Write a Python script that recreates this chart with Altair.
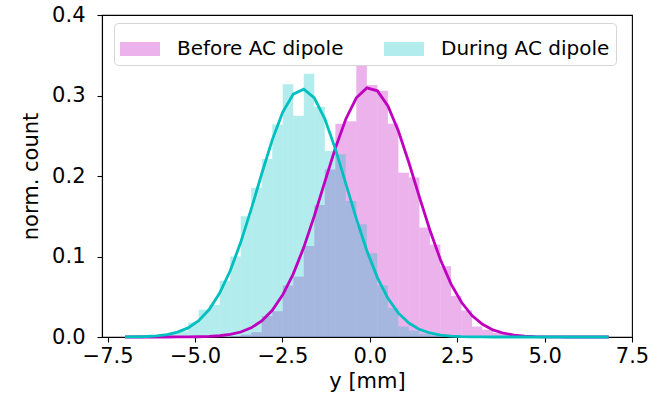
import altair as alt
import pandas as pd

# Common histogram bin edges (y [mm])
edges = [-7.000, -6.699, -6.399, -6.098, -5.797, -5.497, -5.196, -4.895, -4.594, -4.294,
         -3.993, -3.692, -3.392, -3.091, -2.790, -2.490, -2.189, -1.888, -1.587, -1.287,
         -0.986, -0.685, -0.385, -0.084, 0.217, 0.518, 0.818, 1.119, 1.420, 1.720,
         2.021, 2.322, 2.622, 2.923, 3.224, 3.525, 3.825, 4.126, 4.427, 4.727,
         5.028, 5.329, 5.629, 5.930, 6.231, 6.531, 6.832]

# Normalised counts per bin
before_counts = [0, 0, 0, 0, 0, 0, 0, 0, 0, 0,
                 0.001, 0.003, 0.006, 0.026, 0.032, 0.064, 0.075, 0.113, 0.164, 0.208,
                 0.265, 0.268, 0.342, 0.313, 0.306, 0.265, 0.204, 0.198, 0.136, 0.115,
                 0.088, 0.051, 0.033, 0.013, 0.009, 0.005, 0.003, 0.002, 0.001, 0,
                 0, 0, 0, 0, 0, 0]
during_counts = [0, 0.001, 0.001, 0.002, 0.004, 0.007, 0.018, 0.034, 0.040, 0.070,
                 0.100, 0.150, 0.185, 0.221, 0.264, 0.314, 0.275, 0.327, 0.286, 0.231,
                 0.227, 0.169, 0.140, 0.104, 0.064, 0.036, 0.013, 0.008, 0.004, 0.002,
                 0.001, 0, 0, 0, 0, 0, 0, 0, 0, 0,
                 0, 0, 0, 0, 0, 0]

# Fitted curves, read at the bin edges
before_fit = [0, 0, 0, 0, 0.00002, 0.00005, 0.00013, 0.00032, 0.00073, 0.00156,
              0.0032, 0.0062, 0.0114, 0.0200, 0.0332, 0.0523, 0.0784, 0.1114, 0.1505, 0.1927,
              0.2345, 0.2709, 0.2971, 0.3094, 0.3058, 0.2870, 0.2558, 0.2164, 0.1738, 0.1326,
              0.0960, 0.0660, 0.0431, 0.0267, 0.0157, 0.0088, 0.0047, 0.0023, 0.0011, 0.0005,
              0.0002, 0.0001, 0, 0, 0, 0, 0]
during_fit = [0.0001, 0.0003, 0.0006, 0.0014, 0.0030, 0.0060, 0.0113, 0.0202, 0.0341, 0.0545,
              0.0823, 0.1176, 0.1588, 0.2028, 0.2449, 0.2795, 0.3017, 0.3078, 0.2970, 0.2710,
              0.2337, 0.1905, 0.1470, 0.1071, 0.0738, 0.0481, 0.0296, 0.0173, 0.0095, 0.0050,
              0.0024, 0.0011, 0.0005, 0.0002, 0.0001, 0, 0, 0, 0, 0,
              0, 0, 0, 0, 0, 0, 0]

series = ["Before AC dipole", "During AC dipole"]
colors = ["#bf00bf", "#00bfbf"]
x_ticks = [-7.5, -5.0, -2.5, 0.0, 2.5, 5.0, 7.5]
y_ticks = [0.0, 0.1, 0.2, 0.3, 0.4]

rows = []
for name, counts in zip(series, [before_counts, during_counts]):
    for i, c in enumerate(counts):
        rows.append({"lo": edges[i], "hi": edges[i + 1], "count": c, "series": name})
hist_df = pd.DataFrame(rows)

frows = []
for name, fit in zip(series, [before_fit, during_fit]):
    for e, v in zip(edges, fit):
        frows.append({"x": e, "v": v, "series": name})
fit_df = pd.DataFrame(frows)

FONT = "DejaVu Sans"
xscale = alt.Scale(domain=[-7.66, 7.5], nice=False, zero=False, padding=0)
yscale = alt.Scale(domain=[0, 0.4], nice=False, padding=0)

xaxis = alt.Axis(values=x_ticks, format=".1f", title="y [mm]", labelFlush=False,
                 labelOverlap=False, grid=False, labelPadding=3, titlePadding=4)
yaxis = alt.Axis(values=y_ticks, format=".1f", title="norm. count", labelOverlap=False,
                 grid=False, labelPadding=12, titlePadding=10)

legend = alt.Legend(
    title=None, orient="none", legendX=12, legendY=8, direction="horizontal", columns=2,
    symbolType="M-1,-0.35H1V0.35H-1Z", symbolSize=1600, symbolOpacity=0.3,
    symbolStrokeWidth=0, labelFontSize=20, labelFont=FONT, labelLimit=400,
    labelOffset=17, columnPadding=40, padding=6, fillColor="white",
    strokeColor="#d5d5d5", cornerRadius=4, labelColor="#000000",
)

bars = alt.Chart(hist_df).mark_rect(opacity=0.3).encode(
    x=alt.X("lo:Q", scale=xscale, axis=xaxis),
    x2="hi:Q",
    y=alt.Y("count:Q", scale=yscale, axis=yaxis, stack=None),
    y2=alt.datum(0),
    color=alt.Color("series:N", scale=alt.Scale(domain=series, range=colors), legend=legend),
    order=alt.Order("series:N"),
)

lines = alt.Chart(fit_df).mark_line(strokeWidth=2.8).encode(
    x=alt.X("x:Q", scale=xscale),
    y=alt.Y("v:Q", scale=yscale),
    stroke=alt.Stroke("series:N", scale=alt.Scale(domain=series, range=colors), legend=None),
    detail="series:N",
)

chart = alt.layer(bars, lines).properties(
    width=530, height=322,
    autosize=alt.AutoSizeParams(type="none"),
    padding={"left": 102, "top": 15, "right": 39, "bottom": 75},
).configure_view(
    stroke="black", strokeWidth=1.1
).configure_axis(
    labelFont=FONT, titleFont=FONT, labelFontSize=21, titleFontSize=21,
    labelColor="black", titleColor="black", titleFontWeight="normal",
    tickColor="black", tickWidth=1.1, tickSize=5, domainColor="black", domainWidth=1.1,
)

chart.save("out.html", embed_options={"renderer": "svg", "actions": False})
